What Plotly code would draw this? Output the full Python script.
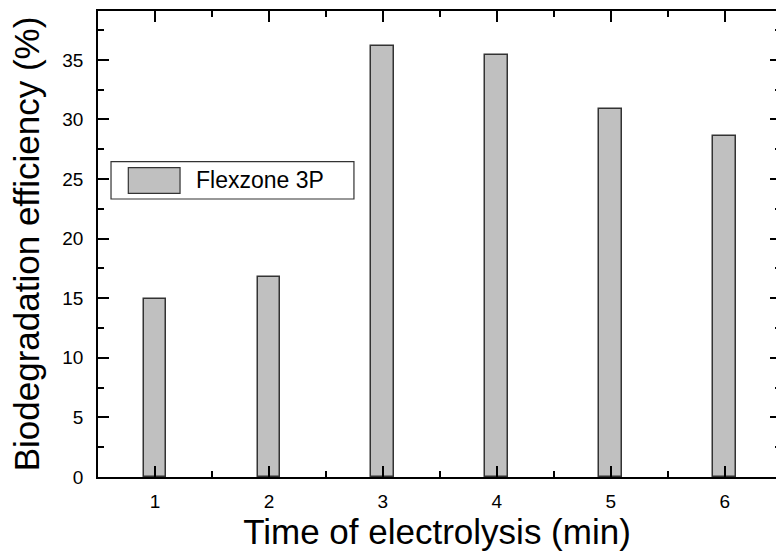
import plotly.graph_objects as go

# Biodegradation efficiency after electrolysis, Flexzone 3P
time_min = [1, 2, 3, 4, 5, 6]
efficiency = [14.9, 16.8, 36.2, 35.4, 30.9, 28.6]
series_name = "Flexzone 3P"
x_ticks = [1, 2, 3, 4, 5, 6]
y_ticks = [0, 5, 10, 15, 20, 25, 30, 35]

FONT = "Liberation Sans, Arial, Helvetica, sans-serif"
BAR_FILL = "#c0c0c0"
EDGE = "#333333"

fig = go.Figure()
fig.add_trace(go.Bar(
    x=time_min, y=efficiency, width=0.2, name=series_name,
    marker=dict(color=BAR_FILL, line=dict(color=EDGE, width=1.5)),
    showlegend=False,
))

axis_common = dict(
    showgrid=False, zeroline=False, ticks="inside", tickcolor="black",
    tickwidth=1.5, linecolor="black", linewidth=1.8,
    tickfont=dict(family=FONT, size=19, color="black"),
)

fig.update_layout(
    width=776, height=557,
    margin=dict(l=98, r=0, t=11, b=80),
    paper_bgcolor="white", plot_bgcolor="white",
    font=dict(family=FONT, color="black"),
    bargap=0,
    xaxis=dict(
        **axis_common, range=[0.5, 6.45], tickvals=x_ticks, ticklen=11,
        showline=True, mirror="ticks", ticklabelstandoff=6,
        minor=dict(ticks="inside", dtick=0.5, tick0=0.5, ticklen=6,
                   tickcolor="black", tickwidth=1.5),
        title=dict(text="Time of electrolysis (min)",
                   font=dict(family=FONT, size=35, color="black"), standoff=6),
    ),
    yaxis=dict(
        **axis_common, range=[0, 39.1], tickvals=y_ticks, ticklen=11,
        showline=True, mirror=False, ticklabelstandoff=9,
        minor=dict(ticks="inside", dtick=2.5, ticklen=6,
                   tickcolor="black", tickwidth=1.5),
        title=dict(text="Biodegradation efficiency (%)",
                   font=dict(family=FONT, size=35, color="black"), standoff=12),
    ),
    # right-hand tick marks only (frame edge falls just beyond the view)
    yaxis2=dict(
        overlaying="y", side="right", range=[0, 39.1], tickvals=y_ticks,
        showticklabels=False, showgrid=False, zeroline=False, showline=False,
        ticks="inside", ticklen=6, tickcolor="black", tickwidth=1.5,
        minor=dict(ticks="inside", dtick=2.5, ticklen=1,
                   tickcolor="black", tickwidth=1.5),
    ),
)

# anchor trace so the right axis is drawn
fig.add_trace(go.Scatter(x=[None], y=[None], yaxis="y2", showlegend=False,
                         hoverinfo="skip"))

# boxed legend with a wide swatch
fig.add_shape(type="rect", xref="x domain", yref="y domain",
              x0=0.0192, x1=0.3775, y0=0.5966, y1=0.6766,
              line=dict(color=EDGE, width=1.2), fillcolor="white", layer="above")
fig.add_shape(type="rect", xref="x domain", yref="y domain",
              x0=0.0447, x1=0.121, y0=0.6088, y1=0.6637,
              line=dict(color=EDGE, width=1.2), fillcolor=BAR_FILL, layer="above")
fig.add_annotation(xref="x domain", yref="y domain", x=0.141, y=0.637,
                   text=series_name, showarrow=False, xanchor="left",
                   yanchor="middle",
                   font=dict(family=FONT, size=23, color="black"))

fig.write_html("out.html")
